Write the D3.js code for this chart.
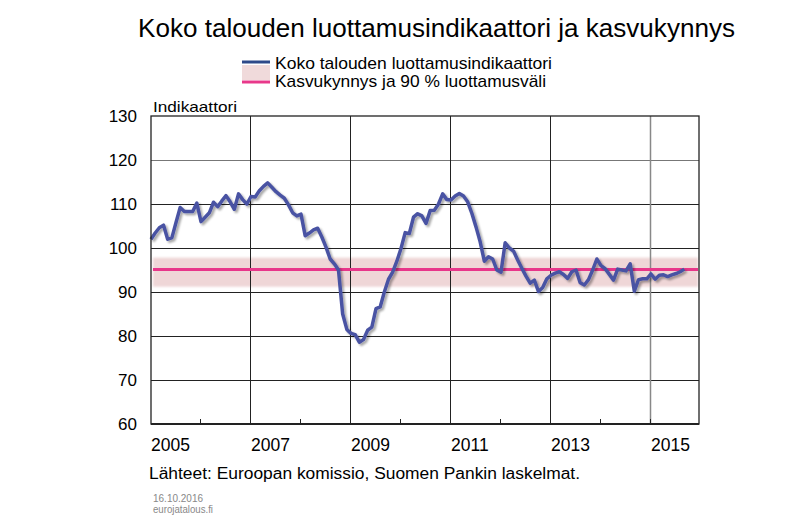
<!DOCTYPE html>
<html><head><meta charset="utf-8">
<script src="https://cdn.jsdelivr.net/npm/d3@7"></script>
<style>body{margin:0;background:#fff}svg{display:block;font-family:"Liberation Sans",Arial,sans-serif}</style>
</head><body><svg id="c" width="800" height="522"></svg>
<script>
// Monthly confidence indicator, Jan 2005 .. Sep 2015
const startYear = 2005;
const confidenceIndex = [
  102.0,103.4,104.6,105.2,102.0,102.3,105.8,109.2,108.3,108.3,108.3,110.2,
  106.0,107.0,108.0,110.4,109.4,110.7,111.9,110.5,108.8,112.3,111.0,110.0,
  111.7,111.6,113.0,114.0,114.8,113.8,112.8,112.0,111.3,109.8,108.0,107.3,
  107.7,102.8,103.4,104.1,104.5,102.5,100.2,97.5,96.4,95.0,85.0,81.5,
  80.6,80.3,78.6,79.2,81.3,82.0,86.2,86.6,90.0,92.9,94.5,97.0,
  99.9,103.5,103.3,107.0,107.8,107.3,105.6,108.5,108.6,110.0,112.3,111.0,
  110.9,111.8,112.4,111.8,110.5,107.9,104.8,101.4,97.0,98.0,97.5,95.0,
  94.5,101.2,100.0,99.3,97.3,95.4,93.6,92.0,92.7,90.1,91.0,93.0,
  93.8,94.3,94.6,94.0,93.1,94.6,95.0,92.1,91.6,92.8,95.0,97.5,
  96.0,95.3,94.0,92.7,95.2,95.0,94.8,96.4,90.2,92.8,93.0,93.0,
  94.1,92.9,93.8,93.9,93.5,93.9,94.2,94.6,95.2
];
const growthThreshold = [95.1];
const confidenceBand = [91.2, 97.8];
const yTicks = [60,70,80,90,100,110,120,130];
const xTickYears = [2005,2006,2007,2008,2009,2010,2011,2012,2013,2014,2015,2016];
const xLabelYears = [2005,2007,2009,2011,2013,2015];
const gridYears = [2007,2009,2011,2013,2015];

const svg = d3.select("#c");
const L=151, R=699, T=116, B=424;
const x = d3.scaleLinear().domain([2005,2016]).range([L-1,R+1]);
const y = d3.scaleLinear().domain([60,130]).range([B,T]);

const defs = svg.append("defs");
const f = defs.append("filter").attr("id","sh").attr("x","-5%").attr("y","-5%").attr("width","110%").attr("height","110%");
f.append("feDropShadow").attr("dx",2).attr("dy",2).attr("stdDeviation",1.2).attr("flood-color","#000").attr("flood-opacity",0.35);
const fb = defs.append("filter").attr("id","bl");
fb.append("feGaussianBlur").attr("stdDeviation",0.8);

function txt(xp, yp, size, s, len, anchor){
  const t = svg.append("text").attr("x",xp).attr("y",yp).attr("font-size",size).text(s);
  if (anchor) t.attr("text-anchor",anchor);
  if (len) t.attr("textLength",len).attr("lengthAdjust","spacingAndGlyphs");
  return t;
}

// Title
txt(138, 37, 25.5, "Koko talouden luottamusindikaattori ja kasvukynnys", 597);

// Legend
svg.append("line").attr("x1",242).attr("x2",270).attr("y1",62).attr("y2",62).attr("stroke","#2d4a8a").attr("stroke-width",3);
svg.append("rect").attr("x",242).attr("y",65).attr("width",28).attr("height",15).attr("fill","#f0dadb");
svg.append("line").attr("x1",242).attr("x2",270).attr("y1",82).attr("y2",82).attr("stroke","#e8388a").attr("stroke-width",3);
txt(275, 68.5, 16.2, "Koko talouden luottamusindikaattori", 277);
txt(275, 87, 16.2, "Kasvukynnys ja 90 % luottamusväli", 271);

// Band
svg.append("rect").attr("x",L+2).attr("width",R-L-3)
  .attr("y",y(confidenceBand[1])).attr("height",y(confidenceBand[0])-y(confidenceBand[1]))
  .attr("fill","#efd6d7").attr("filter","url(#bl)");

// Grid
svg.append("g").selectAll("line").data(yTicks.filter(d=>d>60&&d<130)).join("line")
  .attr("x1",L).attr("x2",R).attr("y1",d=>Math.round(y(d))+0.5).attr("y2",d=>Math.round(y(d))+0.5)
  .attr("stroke",d=>d===120?"#777":"#222").attr("stroke-width",1);
svg.append("g").selectAll("line").data(gridYears).join("line")
  .attr("x1",d=>Math.round(x(d))+0.5).attr("x2",d=>Math.round(x(d))+0.5).attr("y1",T).attr("y2",B)
  .attr("stroke",d=>d===2015?"#888":"#222").attr("stroke-width",d=>d===2015?1.5:1);

// Threshold line
svg.append("line").attr("x1",L+2).attr("x2",R-1)
  .attr("y1",y(growthThreshold[0])).attr("y2",y(growthThreshold[0]))
  .attr("stroke","#e8368a").attr("stroke-width",3);

// Series line
const line = d3.line().x((d,i)=>x(startYear+i/12)+1).y(d=>y(d));
svg.append("path").datum(confidenceIndex).attr("d",line).attr("fill","none")
  .attr("stroke","#4a53a3").attr("stroke-width",3.5).attr("stroke-linejoin","round").attr("filter","url(#sh)");

// Frame
svg.append("rect").attr("x",L).attr("y",T).attr("width",R-L).attr("height",B-T)
  .attr("fill","none").attr("stroke","#222").attr("stroke-width",1.3);
svg.append("line").attr("x1",L).attr("x2",R).attr("y1",B).attr("y2",B).attr("stroke","#222").attr("stroke-width",2);

// X ticks (inside, bottom)
svg.append("g").selectAll("line").data(xTickYears.filter(d=>d>2005&&d<2016)).join("line")
  .attr("x1",d=>Math.round(x(d))+0.5).attr("x2",d=>Math.round(x(d))+0.5).attr("y1",B).attr("y2",B-5)
  .attr("stroke","#222");

// Axis labels
svg.append("g").selectAll("text").data(yTicks).join("text")
  .attr("x",137).attr("y",d=>y(d)+6).attr("text-anchor","end").attr("font-size",17).text(d=>d);
svg.append("g").selectAll("text").data(xLabelYears).join("text")
  .attr("x",d=>x(d)+1).attr("y",451).attr("font-size",17.5).text(d=>d);
txt(153, 112, 15, "Indikaattori", 84);

// Footer
txt(149, 479, 16, "Lähteet: Euroopan komissio, Suomen Pankin laskelmat.", 431);
txt(153, 501.5, 10.5, "16.10.2016", 50).attr("fill","#888");
txt(153, 512.5, 10.5, "eurojatalous.fi", 60).attr("fill","#888");
</script></body></html>
